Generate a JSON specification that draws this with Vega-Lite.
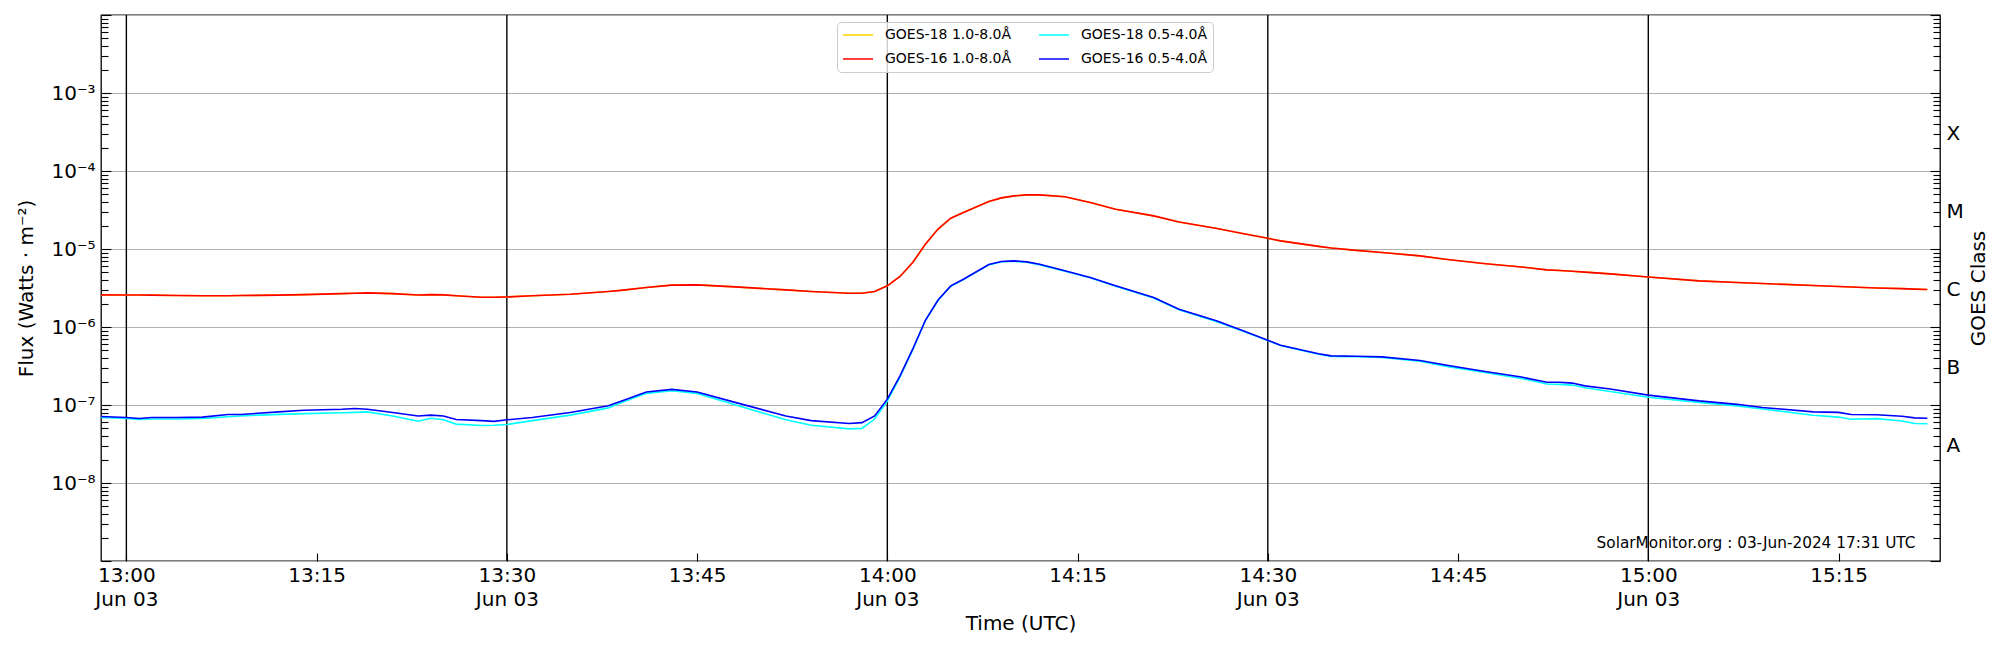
{
  "$schema": "https://vega.github.io/schema/vega-lite/v6.json",
  "width": 1839,
  "height": 546,
  "autosize": {"type": "none"},
  "padding": {"left": 101, "top": 15, "right": 60, "bottom": 89},
  "background": "white",
  "config": {
    "view": {"stroke": "black", "strokeWidth": 1.3},
    "font": "DejaVu Sans",
    "axis": {
      "domain": false,
      "tickColor": "black",
      "tickWidth": 1.1,
      "labelFont": "DejaVu Sans",
      "labelFontSize": 20,
      "labelColor": "black",
      "labelOverlap": false,
      "labelFlush": false,
      "titleFont": "DejaVu Sans",
      "titleFontSize": 20,
      "titleFontWeight": "normal",
      "titleColor": "black"
    }
  },
  "encoding": {
    "x": {
      "field": "time",
      "type": "temporal",
      "title": "Time (UTC)",
      "scale": {
        "type": "utc",
        "domain": [
          {"year": 2024, "month": 6, "date": 3, "hours": 12, "minutes": 58, "utc": true},
          {"year": 2024, "month": 6, "date": 3, "hours": 15, "minutes": 23, "utc": true}
        ]
      },
      "axis": {
        "grid": false,
        "values": [
          {"year": 2024, "month": 6, "date": 3, "hours": 13, "minutes": 0, "utc": true},
          {"year": 2024, "month": 6, "date": 3, "hours": 13, "minutes": 15, "utc": true},
          {"year": 2024, "month": 6, "date": 3, "hours": 13, "minutes": 30, "utc": true},
          {"year": 2024, "month": 6, "date": 3, "hours": 13, "minutes": 45, "utc": true},
          {"year": 2024, "month": 6, "date": 3, "hours": 14, "minutes": 0, "utc": true},
          {"year": 2024, "month": 6, "date": 3, "hours": 14, "minutes": 15, "utc": true},
          {"year": 2024, "month": 6, "date": 3, "hours": 14, "minutes": 30, "utc": true},
          {"year": 2024, "month": 6, "date": 3, "hours": 14, "minutes": 45, "utc": true},
          {"year": 2024, "month": 6, "date": 3, "hours": 15, "minutes": 0, "utc": true},
          {"year": 2024, "month": 6, "date": 3, "hours": 15, "minutes": 15, "utc": true}
        ],
        "labelExpr": "utcFormat(datum.value, '%M') == '00' || utcFormat(datum.value, '%M') == '30' ? [utcFormat(datum.value, '%H:%M'), utcFormat(datum.value, '%b %d')] : utcFormat(datum.value, '%H:%M')",
        "labelLineHeight": 24,
        "tickSize": -8,
        "labelPadding": 12,
        "titlePadding": 4
      }
    }
  },
  "resolve": {"axis": {"y": "independent"}},
  "layer": [
    {
      "data": {
        "values": [
          {"time": "2024-06-03T13:00:00Z"},
          {"time": "2024-06-03T13:30:00Z"},
          {"time": "2024-06-03T14:00:00Z"},
          {"time": "2024-06-03T14:30:00Z"},
          {"time": "2024-06-03T15:00:00Z"}
        ]
      },
      "mark": {"type": "rule", "color": "black", "strokeWidth": 1.4}
    },
    {
      "data": {
        "values": [
          {"time": "2024-06-03T12:58:00Z", "g18l": 2.58e-6, "g16l": 2.58e-6, "g18s": 6.92e-8, "g16s": 7.13e-8},
          {"time": "2024-06-03T13:00:00Z", "g18l": 2.57e-6, "g16l": 2.57e-6, "g18s": 6.7e-8, "g16s": 6.9e-8},
          {"time": "2024-06-03T13:01:00Z", "g18l": 2.57e-6, "g16l": 2.57e-6, "g18s": 6.52e-8, "g16s": 6.71e-8},
          {"time": "2024-06-03T13:02:00Z", "g18l": 2.56e-6, "g16l": 2.56e-6, "g18s": 6.61e-8, "g16s": 6.92e-8},
          {"time": "2024-06-03T13:04:00Z", "g18l": 2.53e-6, "g16l": 2.53e-6, "g18s": 6.61e-8, "g16s": 6.92e-8},
          {"time": "2024-06-03T13:06:00Z", "g18l": 2.51e-6, "g16l": 2.51e-6, "g18s": 6.71e-8, "g16s": 7.0e-8},
          {"time": "2024-06-03T13:08:00Z", "g18l": 2.52e-6, "g16l": 2.52e-6, "g18s": 7.08e-8, "g16s": 7.55e-8},
          {"time": "2024-06-03T13:09:00Z", "g18l": 2.53e-6, "g16l": 2.53e-6, "g18s": 7.24e-8, "g16s": 7.55e-8},
          {"time": "2024-06-03T13:12:00Z", "g18l": 2.56e-6, "g16l": 2.56e-6, "g18s": 7.59e-8, "g16s": 8.17e-8},
          {"time": "2024-06-03T13:14:00Z", "g18l": 2.6e-6, "g16l": 2.6e-6, "g18s": 7.76e-8, "g16s": 8.57e-8},
          {"time": "2024-06-03T13:17:00Z", "g18l": 2.68e-6, "g16l": 2.68e-6, "g18s": 7.94e-8, "g16s": 8.83e-8},
          {"time": "2024-06-03T13:18:00Z", "g18l": 2.71e-6, "g16l": 2.71e-6, "g18s": 8.04e-8, "g16s": 9.02e-8},
          {"time": "2024-06-03T13:19:00Z", "g18l": 2.74e-6, "g16l": 2.74e-6, "g18s": 8.17e-8, "g16s": 8.83e-8},
          {"time": "2024-06-03T13:21:00Z", "g18l": 2.68e-6, "g16l": 2.68e-6, "g18s": 7.24e-8, "g16s": 8.0e-8},
          {"time": "2024-06-03T13:23:00Z", "g18l": 2.57e-6, "g16l": 2.57e-6, "g18s": 6.19e-8, "g16s": 7.24e-8},
          {"time": "2024-06-03T13:24:00Z", "g18l": 2.6e-6, "g16l": 2.6e-6, "g18s": 6.76e-8, "g16s": 7.41e-8},
          {"time": "2024-06-03T13:25:00Z", "g18l": 2.58e-6, "g16l": 2.58e-6, "g18s": 6.46e-8, "g16s": 7.24e-8},
          {"time": "2024-06-03T13:26:00Z", "g18l": 2.52e-6, "g16l": 2.52e-6, "g18s": 5.69e-8, "g16s": 6.52e-8},
          {"time": "2024-06-03T13:28:00Z", "g18l": 2.41e-6, "g16l": 2.41e-6, "g18s": 5.46e-8, "g16s": 6.3e-8},
          {"time": "2024-06-03T13:29:00Z", "g18l": 2.41e-6, "g16l": 2.41e-6, "g18s": 5.5e-8, "g16s": 6.17e-8},
          {"time": "2024-06-03T13:30:00Z", "g18l": 2.43e-6, "g16l": 2.43e-6, "g18s": 5.62e-8, "g16s": 6.46e-8},
          {"time": "2024-06-03T13:32:00Z", "g18l": 2.52e-6, "g16l": 2.52e-6, "g18s": 6.31e-8, "g16s": 6.92e-8},
          {"time": "2024-06-03T13:35:00Z", "g18l": 2.63e-6, "g16l": 2.63e-6, "g18s": 7.41e-8, "g16s": 8.02e-8},
          {"time": "2024-06-03T13:38:00Z", "g18l": 2.85e-6, "g16l": 2.85e-6, "g18s": 9.18e-8, "g16s": 9.77e-8},
          {"time": "2024-06-03T13:39:00Z", "g18l": 2.95e-6, "g16l": 2.95e-6, "g18s": 1.07e-7, "g16s": 1.12e-7},
          {"time": "2024-06-03T13:41:00Z", "g18l": 3.21e-6, "g16l": 3.21e-6, "g18s": 1.41e-7, "g16s": 1.47e-7},
          {"time": "2024-06-03T13:43:00Z", "g18l": 3.44e-6, "g16l": 3.44e-6, "g18s": 1.52e-7, "g16s": 1.585e-7},
          {"time": "2024-06-03T13:45:00Z", "g18l": 3.47e-6, "g16l": 3.47e-6, "g18s": 1.41e-7, "g16s": 1.47e-7},
          {"time": "2024-06-03T13:48:00Z", "g18l": 3.27e-6, "g16l": 3.27e-6, "g18s": 1.005e-7, "g16s": 1.08e-7},
          {"time": "2024-06-03T13:52:00Z", "g18l": 2.99e-6, "g16l": 2.99e-6, "g18s": 6.46e-8, "g16s": 7.24e-8},
          {"time": "2024-06-03T13:54:00Z", "g18l": 2.85e-6, "g16l": 2.85e-6, "g18s": 5.5e-8, "g16s": 6.3e-8},
          {"time": "2024-06-03T13:57:00Z", "g18l": 2.71e-6, "g16l": 2.71e-6, "g18s": 4.94e-8, "g16s": 5.78e-8},
          {"time": "2024-06-03T13:58:00Z", "g18l": 2.71e-6, "g16l": 2.71e-6, "g18s": 5.01e-8, "g16s": 5.94e-8},
          {"time": "2024-06-03T13:59:00Z", "g18l": 2.85e-6, "g16l": 2.85e-6, "g18s": 6.61e-8, "g16s": 7.24e-8},
          {"time": "2024-06-03T14:00:00Z", "g18l": 3.37e-6, "g16l": 3.37e-6, "g18s": 1.12e-7, "g16s": 1.19e-7},
          {"time": "2024-06-03T14:01:00Z", "g18l": 4.44e-6, "g16l": 4.44e-6, "g18s": 2.29e-7, "g16s": 2.37e-7},
          {"time": "2024-06-03T14:02:00Z", "g18l": 6.71e-6, "g16l": 6.71e-6, "g18s": 5.1e-7, "g16s": 5.19e-7},
          {"time": "2024-06-03T14:03:00Z", "g18l": 1.15e-5, "g16l": 1.15e-5, "g18s": 1.21e-6, "g16s": 1.22e-6},
          {"time": "2024-06-03T14:04:00Z", "g18l": 1.8e-5, "g16l": 1.8e-5, "g18s": 2.2e-6, "g16s": 2.22e-6},
          {"time": "2024-06-03T14:05:00Z", "g18l": 2.48e-5, "g16l": 2.48e-5, "g18s": 3.33e-6, "g16s": 3.37e-6},
          {"time": "2024-06-03T14:06:00Z", "g18l": 2.94e-5, "g16l": 2.94e-5, "g18s": 4.05e-6, "g16s": 4.1e-6},
          {"time": "2024-06-03T14:08:00Z", "g18l": 4.07e-5, "g16l": 4.07e-5, "g18s": 6.25e-6, "g16s": 6.32e-6},
          {"time": "2024-06-03T14:09:00Z", "g18l": 4.52e-5, "g16l": 4.52e-5, "g18s": 6.85e-6, "g16s": 6.92e-6},
          {"time": "2024-06-03T14:10:00Z", "g18l": 4.8e-5, "g16l": 4.8e-5, "g18s": 6.98e-6, "g16s": 7.05e-6},
          {"time": "2024-06-03T14:11:00Z", "g18l": 4.94e-5, "g16l": 4.94e-5, "g18s": 6.77e-6, "g16s": 6.84e-6},
          {"time": "2024-06-03T14:12:00Z", "g18l": 4.94e-5, "g16l": 4.94e-5, "g18s": 6.3e-6, "g16s": 6.38e-6},
          {"time": "2024-06-03T14:14:00Z", "g18l": 4.68e-5, "g16l": 4.68e-5, "g18s": 5.2e-6, "g16s": 5.25e-6},
          {"time": "2024-06-03T14:16:00Z", "g18l": 3.94e-5, "g16l": 3.94e-5, "g18s": 4.27e-6, "g16s": 4.32e-6},
          {"time": "2024-06-03T14:18:00Z", "g18l": 3.24e-5, "g16l": 3.24e-5, "g18s": 3.33e-6, "g16s": 3.37e-6},
          {"time": "2024-06-03T14:21:00Z", "g18l": 2.66e-5, "g16l": 2.66e-5, "g18s": 2.36e-6, "g16s": 2.39e-6},
          {"time": "2024-06-03T14:23:00Z", "g18l": 2.22e-5, "g16l": 2.22e-5, "g18s": 1.67e-6, "g16s": 1.69e-6},
          {"time": "2024-06-03T14:26:00Z", "g18l": 1.83e-5, "g16l": 1.83e-5, "g18s": 1.17e-6, "g16s": 1.19e-6},
          {"time": "2024-06-03T14:28:00Z", "g18l": 1.58e-5, "g16l": 1.58e-5, "g18s": 8.9e-7, "g16s": 9.0e-7},
          {"time": "2024-06-03T14:30:00Z", "g18l": 1.37e-5, "g16l": 1.37e-5, "g18s": 6.7e-7, "g16s": 6.78e-7},
          {"time": "2024-06-03T14:31:00Z", "g18l": 1.27e-5, "g16l": 1.27e-5, "g18s": 5.78e-7, "g16s": 5.85e-7},
          {"time": "2024-06-03T14:34:00Z", "g18l": 1.08e-5, "g16l": 1.08e-5, "g18s": 4.47e-7, "g16s": 4.53e-7},
          {"time": "2024-06-03T14:35:00Z", "g18l": 1.03e-5, "g16l": 1.03e-5, "g18s": 4.2e-7, "g16s": 4.27e-7},
          {"time": "2024-06-03T14:37:00Z", "g18l": 9.6e-6, "g16l": 9.6e-6, "g18s": 4.15e-7, "g16s": 4.22e-7},
          {"time": "2024-06-03T14:39:00Z", "g18l": 9.02e-6, "g16l": 9.02e-6, "g18s": 4.07e-7, "g16s": 4.14e-7},
          {"time": "2024-06-03T14:42:00Z", "g18l": 8.17e-6, "g16l": 8.17e-6, "g18s": 3.65e-7, "g16s": 3.72e-7},
          {"time": "2024-06-03T14:44:00Z", "g18l": 7.4e-6, "g16l": 7.4e-6, "g18s": 3.15e-7, "g16s": 3.25e-7},
          {"time": "2024-06-03T14:47:00Z", "g18l": 6.52e-6, "g16l": 6.52e-6, "g18s": 2.63e-7, "g16s": 2.71e-7},
          {"time": "2024-06-03T14:50:00Z", "g18l": 5.89e-6, "g16l": 5.89e-6, "g18s": 2.19e-7, "g16s": 2.28e-7},
          {"time": "2024-06-03T14:52:00Z", "g18l": 5.4e-6, "g16l": 5.4e-6, "g18s": 1.86e-7, "g16s": 1.96e-7},
          {"time": "2024-06-03T14:53:00Z", "g18l": 5.3e-6, "g16l": 5.3e-6, "g18s": 1.84e-7, "g16s": 1.96e-7},
          {"time": "2024-06-03T14:54:00Z", "g18l": 5.19e-6, "g16l": 5.19e-6, "g18s": 1.8e-7, "g16s": 1.91e-7},
          {"time": "2024-06-03T14:55:00Z", "g18l": 5.05e-6, "g16l": 5.05e-6, "g18s": 1.66e-7, "g16s": 1.76e-7},
          {"time": "2024-06-03T14:57:00Z", "g18l": 4.8e-6, "g16l": 4.8e-6, "g18s": 1.49e-7, "g16s": 1.6e-7},
          {"time": "2024-06-03T15:00:00Z", "g18l": 4.37e-6, "g16l": 4.37e-6, "g18s": 1.26e-7, "g16s": 1.34e-7},
          {"time": "2024-06-03T15:04:00Z", "g18l": 3.9e-6, "g16l": 3.9e-6, "g18s": 1.08e-7, "g16s": 1.13e-7},
          {"time": "2024-06-03T15:07:00Z", "g18l": 3.72e-6, "g16l": 3.72e-6, "g18s": 9.75e-8, "g16s": 1.02e-7},
          {"time": "2024-06-03T15:09:00Z", "g18l": 3.61e-6, "g16l": 3.61e-6, "g18s": 8.9e-8, "g16s": 9.3e-8},
          {"time": "2024-06-03T15:13:00Z", "g18l": 3.4e-6, "g16l": 3.4e-6, "g18s": 7.4e-8, "g16s": 8.17e-8},
          {"time": "2024-06-03T15:15:00Z", "g18l": 3.3e-6, "g16l": 3.3e-6, "g18s": 7.0e-8, "g16s": 8.04e-8},
          {"time": "2024-06-03T15:16:00Z", "g18l": 3.25e-6, "g16l": 3.25e-6, "g18s": 6.58e-8, "g16s": 7.55e-8},
          {"time": "2024-06-03T15:18:00Z", "g18l": 3.16e-6, "g16l": 3.16e-6, "g18s": 6.68e-8, "g16s": 7.5e-8},
          {"time": "2024-06-03T15:20:00Z", "g18l": 3.1e-6, "g16l": 3.1e-6, "g18s": 6.25e-8, "g16s": 7.18e-8},
          {"time": "2024-06-03T15:21:00Z", "g18l": 3.06e-6, "g16l": 3.06e-6, "g18s": 5.78e-8, "g16s": 6.84e-8},
          {"time": "2024-06-03T15:22:00Z", "g18l": 3.03e-6, "g16l": 3.03e-6, "g18s": 5.75e-8, "g16s": 6.76e-8}
        ]
      },
      "transform": [
        {"fold": ["g18l", "g16l", "g18s", "g16s"], "as": ["series", "flux"]}
      ],
      "mark": {"type": "line", "strokeWidth": 1.6, "clip": true},
      "encoding": {
        "y": {
          "field": "flux",
          "type": "quantitative",
          "scale": {"type": "log", "domain": [1e-9, 1e-2], "nice": false},
          "axis": {
            "orient": "left",
            "title": "Flux (Watts · m⁻²)",
            "titlePadding": 14,
            "values": [1e-9, 2e-9, 3e-9, 4e-9, 5e-9, 6e-9, 7e-9, 8e-9, 9e-9,
                       1e-8, 2e-8, 3e-8, 4e-8, 5e-8, 6e-8, 7e-8, 8e-8, 9e-8,
                       1e-7, 2e-7, 3e-7, 4e-7, 5e-7, 6e-7, 7e-7, 8e-7, 9e-7,
                       1e-6, 2e-6, 3e-6, 4e-6, 5e-6, 6e-6, 7e-6, 8e-6, 9e-6,
                       1e-5, 2e-5, 3e-5, 4e-5, 5e-5, 6e-5, 7e-5, 8e-5, 9e-5,
                       1e-4, 2e-4, 3e-4, 4e-4, 5e-4, 6e-4, 7e-4, 8e-4, 9e-4,
                       1e-3, 2e-3, 3e-3, 4e-3, 5e-3, 6e-3, 7e-3, 8e-3, 9e-3, 1e-2],
            "labelExpr": "abs(log(datum.value)/LN10 - round(log(datum.value)/LN10)) < 0.01 && round(log(datum.value)/LN10) >= -8 && round(log(datum.value)/LN10) <= -3 ? ['10⁻⁸','10⁻⁷','10⁻⁶','10⁻⁵','10⁻⁴','10⁻³'][round(log(datum.value)/LN10) + 8] : ''",
            "tickSize": {"condition": {"test": "abs(log(datum.value)/LN10 - round(log(datum.value)/LN10)) < 0.01", "value": -10}, "value": -7},
            "labelPadding": 16,
            "grid": true,
            "gridColor": "#b0b0b0",
            "gridWidth": 1.1,
            "gridOpacity": {"condition": {"test": "abs(log(datum.value)/LN10 - round(log(datum.value)/LN10)) < 0.01", "value": 1}, "value": 0}
          }
        },
        "color": {
          "field": "series",
          "type": "nominal",
          "scale": {
            "domain": ["g18l", "g16l", "g18s", "g16s"],
            "range": ["#ffd700", "#ff0000", "#00ffff", "#0000ff"]
          },
          "legend": {
            "orient": "none",
            "legendX": 736,
            "legendY": 7,
            "columns": 2,
            "direction": "vertical",
            "title": null,
            "symbolType": "stroke",
            "symbolSize": 900,
            "symbolStrokeWidth": 1.5,
            "labelFont": "DejaVu Sans",
            "labelFontSize": 14,
            "labelColor": "black",
            "labelOffset": 11,
            "columnPadding": 26,
            "rowPadding": 8,
            "clipHeight": 16,
            "padding": 5,
            "strokeColor": "#cccccc",
            "fillColor": "rgba(255,255,255,0.8)",
            "cornerRadius": 4,
            "labelExpr": "datum.label == 'g18l' ? 'GOES-18 1.0-8.0Å' : datum.label == 'g18s' ? 'GOES-18 0.5-4.0Å' : datum.label == 'g16l' ? 'GOES-16 1.0-8.0Å' : 'GOES-16 0.5-4.0Å'"
          }
        }
      }
    },
    {
      "data": {
        "values": [
          {"time": "2024-06-03T15:21:04Z", "flux": 1.46e-9, "note": "SolarMonitor.org : 03-Jun-2024 17:31 UTC"}
        ]
      },
      "mark": {"type": "text", "align": "right", "baseline": "alphabetic", "font": "DejaVu Sans", "fontSize": 15.3, "color": "black"},
      "encoding": {
        "text": {"field": "note"},
        "y": {
          "field": "flux",
          "type": "quantitative",
          "scale": {"type": "log", "domain": [1e-9, 1e-2], "nice": false},
          "axis": {
            "orient": "right",
            "title": "GOES Class",
            "titleAngle": 270,
            "titleBaseline": "top",
            "titlePadding": 5,
            "values": [1e-9, 2e-9, 3e-9, 4e-9, 5e-9, 6e-9, 7e-9, 8e-9, 9e-9,
                       1e-8, 2e-8, 3e-8, 4e-8, 5e-8, 6e-8, 7e-8, 8e-8, 9e-8,
                       1e-7, 2e-7, 3e-7, 4e-7, 5e-7, 6e-7, 7e-7, 8e-7, 9e-7,
                       1e-6, 2e-6, 3e-6, 4e-6, 5e-6, 6e-6, 7e-6, 8e-6, 9e-6,
                       1e-5, 2e-5, 3e-5, 4e-5, 5e-5, 6e-5, 7e-5, 8e-5, 9e-5,
                       1e-4, 2e-4, 3e-4, 4e-4, 5e-4, 6e-4, 7e-4, 8e-4, 9e-4,
                       1e-3, 2e-3, 3e-3, 4e-3, 5e-3, 6e-3, 7e-3, 8e-3, 9e-3, 1e-2],
            "labelExpr": "abs(log(datum.value/3)/LN10 - round(log(datum.value/3)/LN10)) < 0.01 && round(log(datum.value/3)/LN10) >= -8 && round(log(datum.value/3)/LN10) <= -4 ? ['A','B','C','M','X'][round(log(datum.value/3)/LN10) + 8] : ''",
            "tickSize": {"condition": {"test": "abs(log(datum.value)/LN10 - round(log(datum.value)/LN10)) < 0.01", "value": -10}, "value": -7},
            "labelPadding": 13,
            "grid": false
          }
        }
      }
    }
  ]
}
